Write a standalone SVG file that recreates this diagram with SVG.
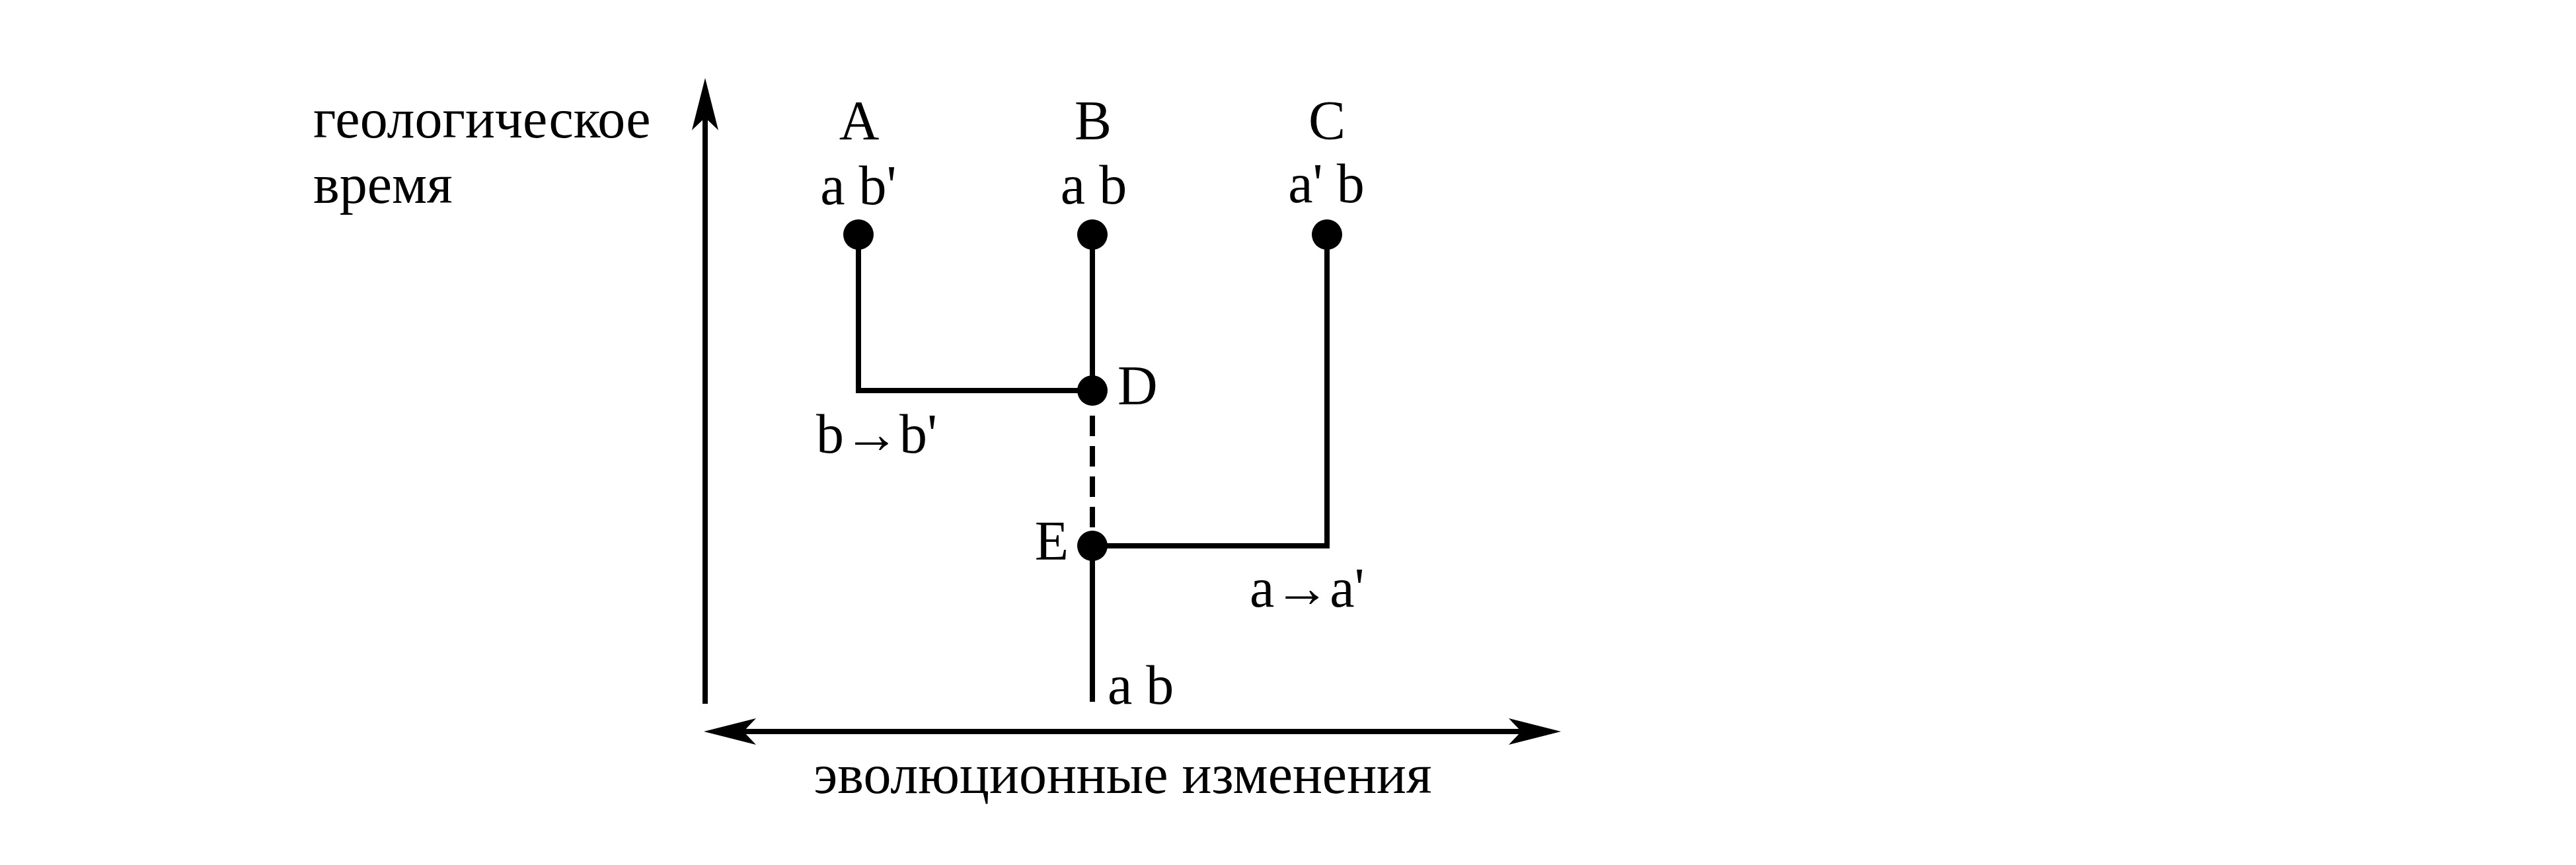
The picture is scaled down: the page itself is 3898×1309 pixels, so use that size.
<svg xmlns="http://www.w3.org/2000/svg" width="3898" height="1309" viewBox="0 0 3898 1309">
<style>
text{font-family:"Liberation Serif","Times New Roman",serif;font-size:84px;fill:#000}
.mid{text-anchor:middle}
.end{text-anchor:end}
.ln{stroke:#000;stroke-width:8;fill:none}
.dash{stroke-dasharray:31 15}
.dot{fill:#000}
</style>
<defs>
<marker id="ah" markerUnits="userSpaceOnUse" viewBox="0 0 79 40" markerWidth="79" markerHeight="40" refX="19" refY="20" orient="auto-start-reverse">
<path d="M0,0 L79,20 L0,40 L19,20 Z" fill="#000"/>
</marker>
</defs>
<rect width="3898" height="1309" fill="#fff"/>
<g id="axes">
<line class="ln" x1="1067" y1="1065" x2="1067" y2="178" marker-end="url(#ah)"/>
<line class="ln" x1="1125" y1="1107" x2="2302" y2="1107" marker-start="url(#ah)" marker-end="url(#ah)"/>
<text x="474" y="208">геологическое</text>
<text x="474" y="307">время</text>
<text class="mid" x="1699" y="1200">эволюционные изменения</text>
</g>
<g id="connectors">
<polyline class="ln" points="1299,355 1299,591 1653,591"/>
<line class="ln" x1="1653" y1="355" x2="1653" y2="591"/>
<line class="ln dash" x1="1653" y1="629" x2="1653" y2="803"/>
<polyline class="ln" points="2008,355 2008,826 1653,826"/>
<line class="ln" x1="1653" y1="826" x2="1653" y2="1062"/>
</g>
<g id="nodeA">
<circle class="dot" cx="1299" cy="355" r="23"/>
<text class="mid" x="1300" y="211">A</text>
<text class="mid" x="1299" y="309">a b'</text>
</g>
<g id="nodeB">
<circle class="dot" cx="1653" cy="355" r="23"/>
<text class="mid" x="1654" y="211">B</text>
<text class="mid" x="1655" y="308">a b</text>
</g>
<g id="nodeC">
<circle class="dot" cx="2008" cy="355" r="23"/>
<text class="mid" x="2008" y="211">C</text>
<text class="mid" x="2007" y="306">a' b</text>
</g>
<g id="nodeD">
<circle class="dot" cx="1653" cy="591" r="23"/>
<text x="1691" y="612">D</text>
<text x="1235" y="685">b→b'</text>
</g>
<g id="nodeE">
<circle class="dot" cx="1653" cy="826" r="23"/>
<text class="end" x="1617" y="847">E</text>
<text x="1891" y="918">a→a'</text>
</g>
<g id="root">
<text x="1676" y="1065">a b</text>
</g>
</svg>
